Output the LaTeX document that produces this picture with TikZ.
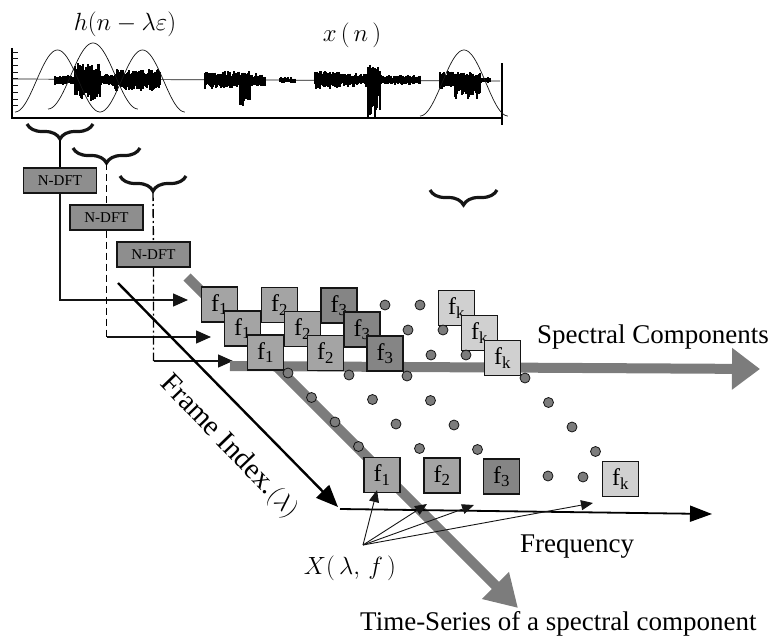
\documentclass[tikz,border=0pt]{standalone}
\usepackage{fontspec}
\setmainfont{Liberation Serif}
\usetikzlibrary{arrows.meta,positioning,calc,decorations.pathreplacing}
\definecolor{Ink}{HTML}{151515}
\definecolor{BoxMid}{HTML}{A4A4A4}
\definecolor{BoxDark}{HTML}{858585}
\definecolor{BoxPale}{HTML}{D0D0D0}
\definecolor{DftGray}{HTML}{8E8E8E}
\definecolor{Band}{HTML}{7C7C7C}
\tikzset{
  dftbox/.style={draw=Ink,fill=DftGray,line width=1.3pt,minimum width=73pt,
    minimum height=25pt,inner sep=0pt,font=\fontsize{15}{15}\selectfont},
  fbox/.style={draw=Ink,fill=BoxMid,line width=1.2pt,minimum width=36pt,
    minimum height=35pt,inner sep=0pt,font=\fontsize{24}{24}\selectfont},
  fboxdark/.style={fbox,fill=BoxDark},
  fboxpale/.style={fbox,fill=BoxPale},
  bin/.style={circle,draw=Ink,fill=Band,line width=0.8pt,inner sep=0pt,minimum size=10pt},
  feed/.style={line width=1.4pt,color=Ink,-{Triangle[length=15pt,width=13pt]}},
  pointer/.style={line width=0.9pt,color=Ink,-{Triangle[length=12pt,width=10pt]}},
  band/.style={line width=10pt,color=Band,-{Triangle[length=28pt,width=40pt]}},
  curly/.style={decorate,decoration={brace,amplitude=15pt},line width=3.2pt,color=Ink},
  axistext/.style={font=\fontsize{27}{30}\selectfont,inner sep=0pt},
  wave/.style={line width=0.7pt,color=Ink}
}
\begin{document}
\begin{tikzpicture}[x=1pt,y=-1pt]
  \useasboundingbox (0,0) rectangle (778,642);
  % signal x(n) and the sliding windows
  \draw[line width=1.2pt] (12,48) -- (12,118) -- (502,118);
  \draw[line width=1.2pt] (502,63) -- (502,125);
  \foreach \y in {52,58.7,...,112} \draw[wave] (12,\y) -- (18,\y);
  \draw[wave] (12,79) -- (500,81);
  \pgfmathsetseed{11}
  \foreach \a/\b/\u/\d in {55/75/5/5,75/100/18/22,100/115/6/6,115/160/11/11,
      205/240/9/9,240/250/9/30,250/265/7/7,280/295/3/3,315/340/9/9,340/367/7/7,
      368/380/18/39,380/420/5/5,440/455/9/9,455/480/8/20,480/490/3/3} {
    \foreach \p in {\a,...,\b} {
      \pgfmathsetmacro\hu{\u*(0.4+0.6*rnd)}
      \pgfmathsetmacro\hd{\d*(0.4+0.6*rnd)}
      \draw[line width=1.1pt] (\p,80-\hu) -- (\p,80+\hd);
    }
  }
  \foreach \a/\w/\ya/\yb in {15/85/112/62,48/90/109/66,100/85/112/62,420/88/116/66}
    \draw[wave] plot[domain=0:1,samples=60] ({\a+\x*\w},{\ya-\yb*(1-cos(360*\x))/2});
  \node[font=\fontsize{37}{37}\selectfont] (hlab) at (125,24) {$h(n-\lambda\varepsilon)$};
  \node[font=\fontsize{37}{37}\selectfont] (xnlab) at (352,35) {$x\,(\,n\,)$};

  % frames -> N-DFT
  \draw[curly] (93,124) -- (27,124);
  \draw[curly] (140,148) -- (73,148);
  \draw[curly] (186,176) -- (120,176);
  \draw[curly] (497,190) -- (430,190);
  \coordinate (t1) at (60,140);
  \coordinate (t2) at (106.5,163);
  \coordinate (t3) at (153,192);
  \node[dftbox] (dft1) at (60,180.5) {N-DFT};
  \node[dftbox] (dft2) at (106.5,217.5) {N-DFT};
  \node[dftbox] (dft3) at (153.5,254.5) {N-DFT};
  \coordinate (in1) at (188,300);
  \coordinate (in2) at (211,337);
  \coordinate (in3) at (233,361);
  \draw[line width=1.4pt] (t1) -- (dft1);
  \draw[feed] (dft1.south) |- (in1);
  \draw[line width=1.4pt,dash pattern=on 7pt off 4pt] (t2) -- (dft2)
    (dft2.south) -- (dft2.south |- in2);
  \draw[feed] (dft2.south |- in2) -- (in2);
  \draw[line width=1.4pt,dash pattern=on 9pt off 3pt on 2pt off 3pt] (t3) -- (dft3)
    (dft3.south) -- (dft3.south |- in3);
  \draw[feed] (dft3.south |- in3) -- (in3);

  % axes
  \coordinate (fi0) at (118,283);
  \coordinate (fi1) at (338,507);
  \draw[line width=2.4pt,-{Triangle[length=22pt,width=18pt]}] (fi0) -- (fi1);
  \node[axistext,font=\fontsize{29}{30}\selectfont,rotate=-46] (filab) at (229,447) {Frame Index.$(\lambda)$};
  \coordinate (ts0) at (187,277);
  \coordinate (ts1) at (518,608);
  \draw[band,-{Triangle[length=32pt,width=36pt]}] (ts0) -- (ts1);
  \coordinate (sc0) at (230,366);
  \coordinate (sc1) at (760,369);
  \draw[band] (sc0) -- (sc1);

  % spectra of the frames
  \foreach \r in {0,1,2} {
    \node[fbox] (f1-\r) at ({219.5+23*\r},{304.5+24*\r}) {f\textsubscript{1}};
    \node[fbox] (f2-\r) at ({279.5+23*\r},{305+24*\r}) {f\textsubscript{2}};
    \node[fboxdark] (f3-\r) at ({339+23*\r},{305.5+24*\r}) {f\textsubscript{3}};
    \node[fboxpale] (fk-\r) at ({456.5+23*\r},{308+25*\r}) {f\textsubscript{k}};
    \node[bin] (r1-\r) at ({385+23*\r},{305+25*\r}) {};
    \node[bin] (r2-\r) at ({420+23*\r},{305+25*\r}) {};
  }
  \foreach \c/\y [count=\i] in {288/373,349/375,407/376,525/378}
    \foreach \k in {0,1,2,3}
      \node[bin] (d\i-\k) at ({\c+23.5*\k},{\y+24.5*\k}) {};
  \node[fbox] (b1) at (382,475) {f\textsubscript{1}};
  \node[fbox] (b2) at (442,475.5) {f\textsubscript{2}};
  \node[fboxdark] (b3) at (501.5,476.5) {f\textsubscript{3}};
  \node[bin] (r1-3) at (548,476) {};
  \node[bin] (r2-3) at (583,477) {};
  \node[fboxpale] (bk) at (620.5,479) {f\textsubscript{k}};

  \coordinate (fq0) at (340,509);
  \coordinate (fq1) at (712,514);
  \draw[line width=1.8pt,-{Triangle[length=22pt,width=16pt]}] (fq0) -- (fq1);
  \coordinate (xo) at (363,545);
  \coordinate (q2) at (427,504);
  \coordinate (q3) at (474,505);
  \coordinate (qk) at (593,503);
  \draw[pointer] (xo) -- ([xshift=-5pt,yshift=3pt]b1.south);
  \foreach \q in {q2,q3,qk} \draw[pointer] (xo) -- (\q);
  \node[font=\fontsize{26}{26}\selectfont] (xlab) at (350,568) {$X(\,\lambda,\,f\,)$};

  \node[axistext,anchor=base west] (sclab) at (537,343) {Spectral Components};
  \node[axistext,anchor=base west] (fqlab) at (520,552) {Frequency};
  \node[axistext,anchor=base west] (tslab) at (360,630) {Time-Series of a spectral component};
\end{tikzpicture}
\end{document}
